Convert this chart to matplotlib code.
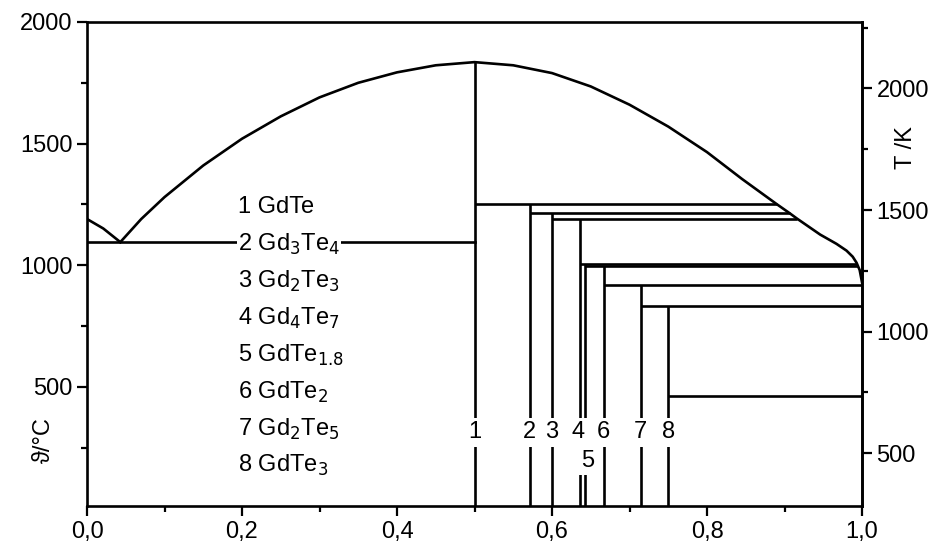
import numpy as np
import matplotlib
matplotlib.use("Agg")
import matplotlib.pyplot as plt
from matplotlib.ticker import MultipleLocator, FixedLocator, FuncFormatter

plt.rcParams['font.family'] = ['Liberation Sans', 'DejaVu Sans']

# --- data (mole fraction Te, temperature in °C) ---
liq_left_x = [0.0, 0.021, 0.043]
liq_left_T = [1190, 1151, 1095]
liq_main_x = [0.043, 0.07, 0.1, 0.15, 0.2, 0.25, 0.3, 0.35, 0.4, 0.45, 0.5,
              0.55, 0.6, 0.65, 0.7, 0.75, 0.8, 0.845, 0.89, 0.907, 0.916,
              0.946, 0.967, 0.98, 0.988, 0.993, 0.997, 1.0]
liq_main_T = [1095, 1190, 1280, 1410, 1520, 1612, 1690, 1750, 1793, 1822, 1835,
              1822, 1790, 1735, 1660, 1570, 1465, 1355, 1251, 1213, 1192,
              1126, 1088, 1060, 1035, 1010, 980, 930]
eutectic_T = 1095
eutectic_x = [0.0, 0.5]

comp_labels = ['1', '2', '3', '4', '5', '6', '7', '8']
comp_names = ['GdTe', 'Gd$_3$Te$_4$', 'Gd$_2$Te$_3$', 'Gd$_4$Te$_7$', 'GdTe$_{1.8}$',
              'GdTe$_2$', 'Gd$_2$Te$_5$', 'GdTe$_3$']
comp_x = [0.5, 4/7, 0.6, 7/11, 1.8/2.8, 2/3, 5/7, 0.75]
# top of each compound line (°C)
comp_top = [1835, 1251, 1213, 1192, 1006, 997, 917, 833]
# peritectic / decomposition horizontals starting at each compound
horiz_T = [1251, 1213, 1192, 1006, 997, 917, 833, 463]

ymin, ymax = 10, 2000

fig = plt.figure(figsize=(9.43, 5.48), dpi=100)
ax = fig.add_axes([87/943, 1-506/548, 775/943, 484/548])
lw = 1.9
k = 'black'

ax.plot(liq_left_x, liq_left_T, color=k, lw=lw)
ax.plot(liq_main_x, liq_main_T, color=k, lw=lw, solid_joinstyle='round')
ax.plot(eutectic_x, [eutectic_T]*2, color=k, lw=lw)

# right branch of liquidus for end points of horizontals
rb_x = np.array(liq_main_x[10:])
rb_T = np.array(liq_main_T[10:])
for xi, top, th in zip(comp_x, comp_top, horiz_T):
    ax.plot([xi, xi], [ymin, top], color=k, lw=lw, solid_capstyle='butt')
    if th <= rb_T.min():
        xe = 1.0
    else:
        xe = np.interp(th, rb_T[::-1], rb_x[::-1])
    ax.plot([xi, xe], [th, th], color=k, lw=lw, solid_capstyle='butt')

fs = 17
bb = dict(facecolor='white', edgecolor='none', pad=2.5)
label_y = [313, 313, 313, 313, 196, 313, 313, 313]
label_dx = [0, 0, 0, -0.003, 0.003, 0, 0, 0]
for lab, xi, ly, dx in zip(comp_labels, comp_x, label_y, label_dx):
    ax.text(xi + dx, ly, lab, ha='center', va='center', fontsize=fs, bbox=bb, zorder=5)

for i, (lab, nm) in enumerate(zip(comp_labels, comp_names)):
    ax.text(0.195, 1239 - i*152, f'{lab} {nm}', ha='left', va='center', fontsize=fs,
            bbox=dict(facecolor='white', edgecolor='none', pad=0.5), zorder=5)

ax.set_xlim(0, 1)
ax.set_ylim(ymin, ymax)
ax.xaxis.set_major_locator(MultipleLocator(0.2))
ax.xaxis.set_minor_locator(MultipleLocator(0.1))
ax.xaxis.set_major_formatter(FuncFormatter(lambda v, p: f'{v:.1f}'.replace('.', ',')))
ax.yaxis.set_major_locator(FixedLocator([500, 1000, 1500, 2000]))
ax.yaxis.set_minor_locator(FixedLocator([250, 750, 1250, 1750]))
for s in ax.spines.values():
    s.set_linewidth(1.9)
ax.tick_params(which='both', direction='out', width=1.6, labelsize=fs)
ax.tick_params(which='major', length=7)
ax.tick_params(which='minor', length=4)
ax.tick_params(axis='x', which='both', top=False)
ax.tick_params(axis='y', which='both', right=False)

sec = ax.secondary_yaxis('right', functions=(lambda c: c + 273.15, lambda t: t - 273.15))
sec.yaxis.set_major_locator(FixedLocator([500, 1000, 1500, 2000]))
sec.yaxis.set_minor_locator(FixedLocator([750, 1250, 1750, 2250]))
sec.tick_params(which='both', direction='out', width=1.6, labelsize=fs)
sec.tick_params(which='major', length=7)
sec.tick_params(which='minor', length=4)
sec.spines['right'].set_linewidth(1.9)

fig.text(44/943, 1-440/548, 'ϑ/°C', rotation=90, ha='center', va='center', fontsize=fs)
fig.text(906/943, 1-148/548, 'T /K', rotation=90, ha='center', va='center', fontsize=fs)

fig.savefig('out.png', dpi=100)
